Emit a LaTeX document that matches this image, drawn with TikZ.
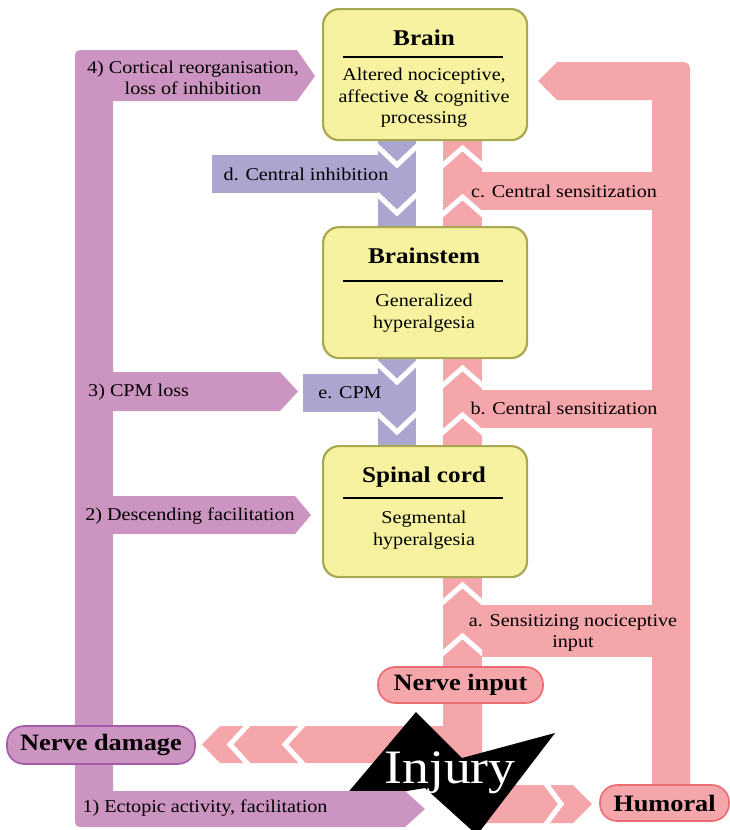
\documentclass[tikz,border=0pt]{standalone}
\usepackage{fontspec}
\setmainfont{Liberation Serif}[FakeStretch=1.12]
\definecolor{pinkc}{RGB}{245,166,170}
\definecolor{mauve}{RGB}{204,148,192}
\definecolor{lav}{RGB}{170,166,208}
\definecolor{yel}{RGB}{247,242,160}
\definecolor{olivec}{RGB}{168,168,82}
\definecolor{purpleb}{RGB}{165,90,170}
\definecolor{redb}{RGB}{235,108,112}
\begin{document}
\begin{tikzpicture}[x=1pt,y=-1pt,
  box/.style={draw=olivec, line width=2.2pt, fill=yel, rounded corners=16pt,
    minimum width=204pt, minimum height=131pt, anchor=north west, inner sep=0pt},
  title/.style={font=\fontsize{22.5}{26}\selectfont\bfseries, anchor=base, inner sep=0pt},
  body/.style={font=\fontsize{18}{21.5}\selectfont, align=center, inner sep=0pt},
  lbl/.style={font=\fontsize{18}{21.5}\selectfont, align=center, inner sep=0pt},
  pill/.style={line width=1.6pt, rounded corners=17pt, inner sep=0pt,
    font=\fontsize{23.5}{26}\selectfont\bfseries},
  chev/.style={white, line width=5pt, line join=miter, line cap=butt},
  rulel/.style={line width=1.1pt, black}]
\useasboundingbox (0,0) rectangle (729,830);

% ---------- pink bands ----------
\fill[pinkc] (538,81) -- (557,62) -- (676,62) .. controls (690,62) .. (690,76)
  -- (690,786) -- (652,786) -- (652,100) -- (557,100) -- cycle;
\fill[pinkc] (482,172) rectangle (652,210);
\fill[pinkc] (482,390) rectangle (652,428);
\fill[pinkc] (482,605) rectangle (652,657);
\fill[pinkc] (443,139) rectangle (482,226);
\fill[pinkc] (443,357) rectangle (482,445);
\fill[pinkc] (443,576) rectangle (482,680);
\fill[pinkc] (443,690) -- (482,690) -- (482,763) -- (220,763) -- (202,744.5)
  -- (220,726) -- (443,726) -- cycle;
\fill[pinkc] (470,785) -- (573,785) -- (592,804) -- (573,823) -- (470,823) -- cycle;

% ---------- lavender bands ----------
\fill[lav] (378,139) rectangle (416,226);
\fill[lav] (212,155) rectangle (416,193);
\fill[lav] (378,357) rectangle (416,445);
\fill[lav] (303,374) rectangle (416,412);

% ---------- injury shape ----------
\fill[black] (340,802) -- (416,712) -- (462,758) -- (555,733) -- (477,835)
  -- (425,788) -- cycle;

% ---------- mauve bands ----------
\fill[mauve] (87,50) -- (297,50) -- (315,76) -- (297,101) -- (113,101)
  -- (113,791) -- (405,791) -- (425,809) -- (405,827) -- (87,827)
  .. controls (75,827) .. (75,815) -- (75,62) .. controls (75,50) .. (87,50) -- cycle;
\fill[mauve] (113,372) -- (280,372) -- (298,391.5) -- (280,411) -- (113,411) -- cycle;
\fill[mauve] (113,496) -- (295,496) -- (311,515) -- (295,534) -- (113,534) -- cycle;

% ---------- chevrons ----------
\begin{scope}
  \clip (443,130) rectangle (482,680);
  \foreach \a in {148,197,368,415,585,636}
    \draw[chev] (438.5,\a+21) -- (462.5,\a) -- (486.5,\a+21);
\end{scope}
\begin{scope}
  \clip (378,130) rectangle (416,450);
  \foreach \s in {147,195,364,414}
    \draw[chev] (373,\s-4.7) -- (397,\s+18) -- (421,\s-4.7);
\end{scope}
\begin{scope}
  \clip (200,726) rectangle (330,763);
  \foreach \c in {230,285}
    \draw[chev] (\c+21.6,721) -- (\c,744.5) -- (\c+21.6,768);
\end{scope}
\begin{scope}
  \clip (500,785) rectangle (600,823);
  \draw[chev] (542.5,779) -- (561,804) -- (542.5,829);
\end{scope}

% ---------- boxes ----------
\node[box] (brain) at (322,8) {};
\node[box] (brainstem) at (322,226) {};
\node[box] (spinal) at (322,445) {};

\node[title] (brainT) at (424,45) {Brain};
\draw[rulel] (343,57) -- (503,57);
\node[body] (brainB) at (424,98) {Altered nociceptive,\\affective \& cognitive\\processing};

\node[title] (brainstemT) at (424,263) {Brainstem};
\draw[rulel] (343,281) -- (503,281);
\node[body] (brainstemB) at (424,313) {Generalized\\hyperalgesia};

\node[title] (spinalT) at (424,482) {Spinal cord};
\draw[rulel] (343,498) -- (503,498);
\node[body] (spinalB) at (424,530) {Segmental\\hyperalgesia};

% ---------- band labels ----------
\node[lbl] (l4) at (193,78) {4) Cortical reorganisation,\\loss of inhibition};
\node[lbl, anchor=west] (l3) at (88,392) {3) CPM loss};
\node[lbl] (l2) at (190,516) {2) Descending facilitation};
\node[lbl] (l1) at (205,808) {1) Ectopic activity, facilitation};
\node[lbl] (ld) at (306,174) {d. Central inhibition};
\node[lbl] (le) at (350,393) {e. CPM};
\node[lbl] (lc) at (564,191) {c. Central sensitization};
\node[lbl] (lb) at (564,408) {b. Central sensitization};
\node[lbl] (la) at (573,633) {a. Sensitizing nociceptive\\input};

% ---------- pills ----------
\node[pill, fill=mauve, draw=purpleb, minimum width=188pt, minimum height=38pt]
  (damage) at (101,745) {Nerve damage};
\node[pill, fill=pinkc, draw=redb, minimum width=165pt, minimum height=36pt]
  (ninput) at (460.5,685) {Nerve input};
\node[pill, fill=pinkc, draw=redb, minimum width=129pt, minimum height=36pt]
  (humoral) at (664.5,803) {Humoral};

% ---------- injury text ----------
\node[font=\fontsize{48}{52}\selectfont, text=white, anchor=base, inner sep=0pt]
  (injury) at (450,783) {Injury};
\end{tikzpicture}
\end{document}
